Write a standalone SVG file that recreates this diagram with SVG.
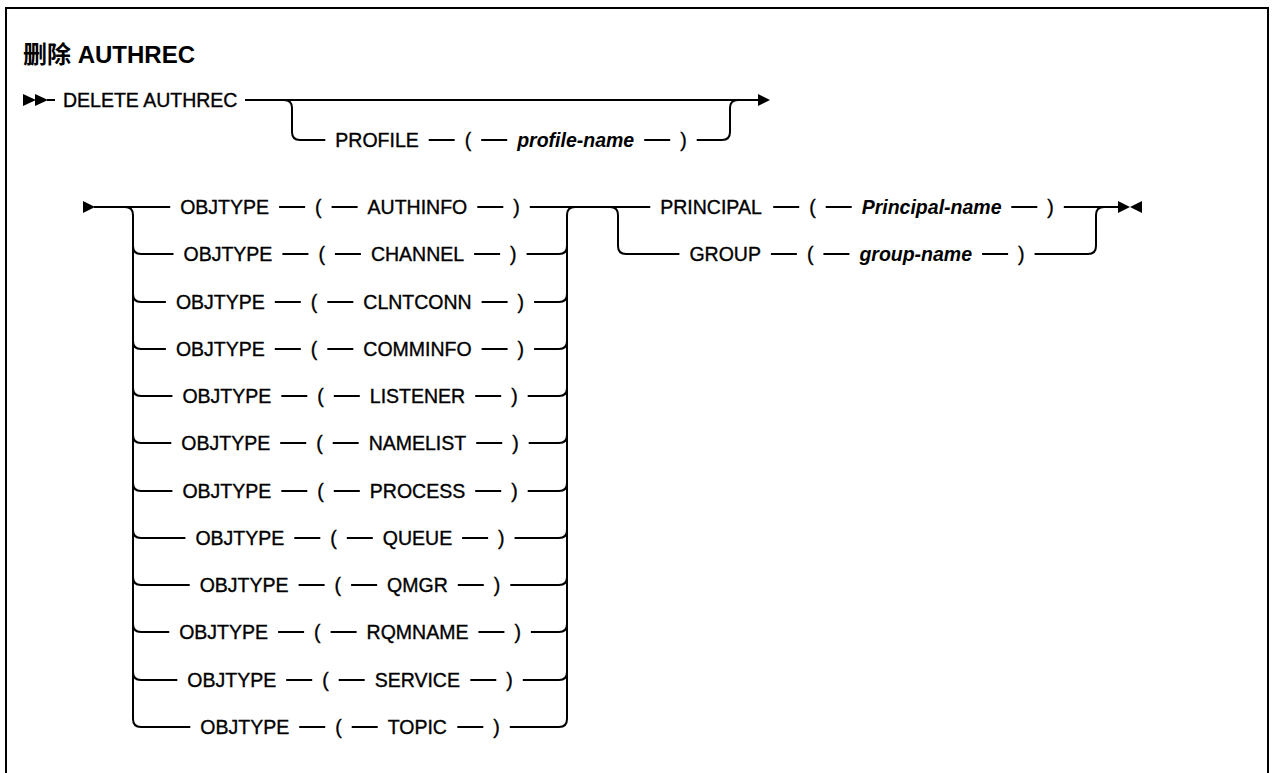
<svg xmlns="http://www.w3.org/2000/svg" width="1274" height="773" viewBox="0 0 1274 773">
<style>
.t{font-family:"Liberation Sans","Noto Sans CJK SC",sans-serif;font-size:19.5px;fill:#000;stroke:#000;stroke-width:0.35}
.v{font-family:"Liberation Sans",sans-serif;font-size:19.5px;font-style:italic;font-weight:bold;fill:#000}
.title{font-family:"Liberation Sans","Noto Sans CJK SC",sans-serif;font-size:24px;font-weight:bold;fill:#000}
.c path,.c line{fill:none;stroke:#000;stroke-width:2}
.m{fill:#000;stroke:none}
</style>
<rect x="0" y="0" width="1274" height="773" fill="#fff"/>
<path d="M6 790 L6 8 L1268 8 L1268 790" fill="none" stroke="#000" stroke-width="2"/>
<text class="title" x="23" y="63">删除 AUTHREC</text>

<g class="c" id="connectors">
  <!-- section 1 -->
  <polygon class="m" points="23,94 36,100 23,106"/>
  <polygon class="m" points="35,94 48,100 35,106"/>
  <line x1="47" y1="100" x2="55" y2="100"/>
  <line x1="245" y1="100" x2="758" y2="100"/>
  <polygon class="m" points="758,94 770,100 758,106"/>
  <path d="M284 100 Q292 100 292 108 L292 132 Q292 140 300 140 L325.3 140"/>
  <line x1="428.7" y1="140" x2="454.7" y2="140"/>
  <line x1="481.2" y1="140" x2="507.2" y2="140"/>
  <line x1="644.2" y1="140" x2="670.2" y2="140"/>
  <path d="M696.7 140 L722 140 Q730 140 730 132 L730 108 Q730 100 738 100"/>

  <!-- section 2 start -->
  <polygon class="m" points="83,201 95,207 83,213"/>
  <line x1="94" y1="207" x2="170.2" y2="207"/>
  <path d="M125 207 Q133 207 133 215 L133 719 Q133 727 141 727 L190.3 727"/>
  <path d="M559 207 L567 207 M567 719 L567 215 Q567 207 575 207"/>
  <path d="M509.8 727 L559 727 Q567 727 567 719"/>
  <!-- row dashes -->
  <line x1="279.1" y1="207" x2="305.1" y2="207"/><line x1="331.6" y1="207" x2="357.6" y2="207"/><line x1="477.3" y1="207" x2="503.3" y2="207"/><line x1="529.8" y1="207" x2="650.25" y2="207"/>

  <path d="M133 246 Q133 254 141 254 L173.5 254"/><path d="M526.6 254 L559 254 Q567 254 567 246"/>
  <line x1="282.4" y1="254" x2="308.4" y2="254"/><line x1="334.9" y1="254" x2="360.9" y2="254"/><line x1="474.1" y1="254" x2="500.1" y2="254"/>

  <path d="M133 294 Q133 302 141 302 L165.9 302"/><path d="M534.1 302 L559 302 Q567 302 567 294"/>
  <line x1="274.8" y1="302" x2="300.8" y2="302"/><line x1="327.3" y1="302" x2="353.3" y2="302"/><line x1="481.6" y1="302" x2="507.6" y2="302"/>

  <path d="M133 341 Q133 349 141 349 L165.9 349"/><path d="M534.1 349 L559 349 Q567 349 567 341"/>
  <line x1="274.8" y1="349" x2="300.8" y2="349"/><line x1="327.3" y1="349" x2="353.3" y2="349"/><line x1="481.6" y1="349" x2="507.6" y2="349"/>

  <path d="M133 388 Q133 396 141 396 L172.4 396"/><path d="M527.7 396 L559 396 Q567 396 567 388"/>
  <line x1="281.3" y1="396" x2="307.3" y2="396"/><line x1="333.8" y1="396" x2="359.8" y2="396"/><line x1="475.2" y1="396" x2="501.2" y2="396"/>

  <path d="M133 435 Q133 443 141 443 L171.3 443"/><path d="M528.7 443 L559 443 Q567 443 567 435"/>
  <line x1="280.2" y1="443" x2="306.2" y2="443"/><line x1="332.7" y1="443" x2="358.7" y2="443"/><line x1="476.2" y1="443" x2="502.2" y2="443"/>

  <path d="M133 483 Q133 491 141 491 L172.4 491"/><path d="M527.7 491 L559 491 Q567 491 567 483"/>
  <line x1="281.3" y1="491" x2="307.3" y2="491"/><line x1="333.8" y1="491" x2="359.8" y2="491"/><line x1="475.2" y1="491" x2="501.2" y2="491"/>

  <path d="M133 530 Q133 538 141 538 L185.4 538"/><path d="M514.6 538 L559 538 Q567 538 567 530"/>
  <line x1="294.3" y1="538" x2="320.3" y2="538"/><line x1="346.8" y1="538" x2="372.8" y2="538"/><line x1="462.1" y1="538" x2="488.1" y2="538"/>

  <path d="M133 577 Q133 585 141 585 L189.7 585"/><path d="M510.3 585 L559 585 Q567 585 567 577"/>
  <line x1="298.6" y1="585" x2="324.6" y2="585"/><line x1="351.1" y1="585" x2="377.1" y2="585"/><line x1="457.8" y1="585" x2="483.8" y2="585"/>

  <path d="M133 624 Q133 632 141 632 L169.2 632"/><path d="M530.9 632 L559 632 Q567 632 567 624"/>
  <line x1="278.1" y1="632" x2="304.1" y2="632"/><line x1="330.6" y1="632" x2="356.6" y2="632"/><line x1="478.4" y1="632" x2="504.4" y2="632"/>

  <path d="M133 672 Q133 680 141 680 L177.3 680"/><path d="M522.8 680 L559 680 Q567 680 567 672"/>
  <line x1="286.2" y1="680" x2="312.2" y2="680"/><line x1="338.7" y1="680" x2="364.7" y2="680"/><line x1="470.3" y1="680" x2="496.3" y2="680"/>

  <line x1="299.2" y1="727" x2="325.2" y2="727"/><line x1="351.7" y1="727" x2="377.7" y2="727"/><line x1="457.3" y1="727" x2="483.3" y2="727"/>

  <!-- section 3 -->
  <path d="M610 207 Q618 207 618 215 L618 246 Q618 254 626 254 L679.4 254"/>
  <line x1="773.2" y1="207" x2="799.2" y2="207"/><line x1="825.7" y1="207" x2="851.7" y2="207"/><line x1="1011.3" y1="207" x2="1037.3" y2="207"/>
  <line x1="1063.8" y1="207" x2="1118" y2="207"/>
  <line x1="770.9" y1="254" x2="796.9" y2="254"/><line x1="823.4" y1="254" x2="849.4" y2="254"/><line x1="982.1" y1="254" x2="1008.1" y2="254"/>
  <path d="M1034.6 254 L1088 254 Q1096 254 1096 246 L1096 215 Q1096 207 1104 207"/>
  <polygon class="m" points="1118,201 1130,207 1118,213"/>
  <polygon class="m" points="1142,201 1130,207 1142,213"/>
</g>

<g id="n-delete"><text class="t" x="63" y="107">DELETE AUTHREC</text></g>
<g id="n-profile"><text class="t" x="335.3" y="147">PROFILE</text><text class="t" x="464.7" y="147">(</text><text class="v" x="517.2" y="147">profile-name</text><text class="t" x="680.2" y="147">)</text></g>

<g id="n-authinfo"><text class="t" x="180.2" y="214">OBJTYPE</text><text class="t" x="315.1" y="214">(</text><text class="t" x="367.6" y="214">AUTHINFO</text><text class="t" x="513.3" y="214">)</text></g>
<g id="n-channel"><text class="t" x="183.5" y="261">OBJTYPE</text><text class="t" x="318.4" y="261">(</text><text class="t" x="370.9" y="261">CHANNEL</text><text class="t" x="510.1" y="261">)</text></g>
<g id="n-clntconn"><text class="t" x="175.9" y="309">OBJTYPE</text><text class="t" x="310.8" y="309">(</text><text class="t" x="363.3" y="309">CLNTCONN</text><text class="t" x="517.6" y="309">)</text></g>
<g id="n-comminfo"><text class="t" x="175.9" y="356">OBJTYPE</text><text class="t" x="310.8" y="356">(</text><text class="t" x="363.3" y="356">COMMINFO</text><text class="t" x="517.6" y="356">)</text></g>
<g id="n-listener"><text class="t" x="182.4" y="403">OBJTYPE</text><text class="t" x="317.3" y="403">(</text><text class="t" x="369.8" y="403">LISTENER</text><text class="t" x="511.2" y="403">)</text></g>
<g id="n-namelist"><text class="t" x="181.3" y="450">OBJTYPE</text><text class="t" x="316.2" y="450">(</text><text class="t" x="368.7" y="450">NAMELIST</text><text class="t" x="512.2" y="450">)</text></g>
<g id="n-process"><text class="t" x="182.4" y="498">OBJTYPE</text><text class="t" x="317.3" y="498">(</text><text class="t" x="369.8" y="498">PROCESS</text><text class="t" x="511.2" y="498">)</text></g>
<g id="n-queue"><text class="t" x="195.4" y="545">OBJTYPE</text><text class="t" x="330.3" y="545">(</text><text class="t" x="382.8" y="545">QUEUE</text><text class="t" x="498.1" y="545">)</text></g>
<g id="n-qmgr"><text class="t" x="199.7" y="592">OBJTYPE</text><text class="t" x="334.6" y="592">(</text><text class="t" x="387.1" y="592">QMGR</text><text class="t" x="493.8" y="592">)</text></g>
<g id="n-rqmname"><text class="t" x="179.2" y="639">OBJTYPE</text><text class="t" x="314.1" y="639">(</text><text class="t" x="366.6" y="639">RQMNAME</text><text class="t" x="514.4" y="639">)</text></g>
<g id="n-service"><text class="t" x="187.3" y="687">OBJTYPE</text><text class="t" x="322.2" y="687">(</text><text class="t" x="374.7" y="687">SERVICE</text><text class="t" x="506.3" y="687">)</text></g>
<g id="n-topic"><text class="t" x="200.3" y="734">OBJTYPE</text><text class="t" x="335.2" y="734">(</text><text class="t" x="387.7" y="734">TOPIC</text><text class="t" x="493.3" y="734">)</text></g>

<g id="n-principal"><text class="t" x="660.25" y="214">PRINCIPAL</text><text class="t" x="809.2" y="214">(</text><text class="v" x="861.7" y="214">Principal-name</text><text class="t" x="1047.3" y="214">)</text></g>
<g id="n-group"><text class="t" x="689.4" y="261">GROUP</text><text class="t" x="806.9" y="261">(</text><text class="v" x="859.4" y="261">group-name</text><text class="t" x="1018.1" y="261">)</text></g>
</svg>
